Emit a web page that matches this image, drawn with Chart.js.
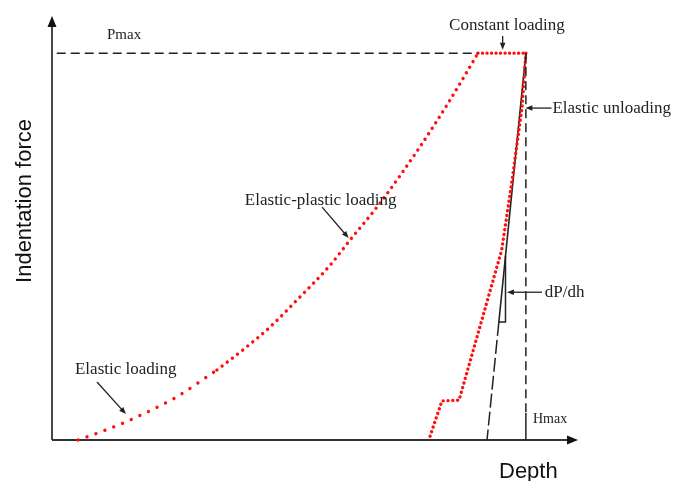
<!DOCTYPE html>
<html>
<head>
<meta charset="utf-8">
<script src="https://cdn.jsdelivr.net/npm/chart.js@4/dist/chart.umd.min.js"></script>
<style>
html,body{margin:0;padding:0;background:#fff;}
#wrap{width:673px;height:481px;position:relative;}
</style>
</head>
<body>
<div id="wrap"><canvas id="c"></canvas></div>
<script>
// Depth in % of Hmax, force in % of Pmax
const elasticDepth = [5.5, 11.4, 16.0, 22.2, 26.0, 34.8];
const elasticForce = [0, 2.6, 4.9, 8.5, 10.9, 18.1];
const plasticDepth = [34.8, 40.3, 46.0, 51.7, 58.7, 62.9, 69.2, 77.6, 84.0, 89.9];
const plasticForce = [18.1, 23.3, 29.2, 36.2, 45.2, 51.7, 61.2, 75.7, 87.9, 100];
const holdDepth = [89.9, 100];
const holdForce = [100, 100];
const unloadDepth = [100, 99.2, 97.1, 94.9, 85.9, 82.3, 79.5];
const unloadForce = [100, 86.1, 67.2, 49.1, 10.3, 10.1, 0];
const tangentSolidDepth = [100, 94.3];
const tangentSolidForce = [100, 30.5];
const tangentDashDepth = [94.3, 91.8];
const tangentDashForce = [30.5, 0];
const triangleDepth = [95.7, 95.7, 94.3];
const triangleForce = [47.6, 30.5, 30.5];
const pmaxDepth = [1.0, 89.9];
const pmaxForce = [100, 100];
const hmaxDashDepth = [100, 100];
const hmaxDashForce = [100, 7];
const hmaxSolidDepth = [100, 100];
const hmaxSolidForce = [7, 0];

// annotation labels: [text, depth, force, align, font size]
const labels = [
  ["Pmax", 11.6, 104.7, "left", 15],
  ["Constant loading", 96.0, 107.2, "center", 17],
  ["Elastic unloading", 105.6, 85.8, "left", 17],
  ["dP/dh", 104.0, 38.2, "left", 17],
  ["Elastic-plastic loading", 40.7, 62.0, "left", 17],
  ["Elastic loading", 4.85, 18.3, "left", 17],
  ["Hmax", 101.5, 5.4, "left", 14]
];
// arrows: [fromDepth, fromForce, toDepth, toForce]
const arrows = [
  [95.1, 104.4, 95.1, 100.9],
  [105.4, 85.8, 99.9, 85.8],
  [103.4, 38.2, 96.0, 38.2],
  [57.0, 60.2, 62.6, 52.2],
  [9.5, 15.0, 15.6, 6.7]
];
const xTitle = "Depth";
const yTitle = "Indentation force";

const pts = (xs, ys) => xs.map((x, i) => ({x: x, y: ys[i]}));
const red = "#ff1010";
const ink = "#222";

function redDots(xs, ys, gap, tension) {
  return {data: pts(xs, ys), borderColor: red, borderWidth: 3.4, borderDash: [0.01, gap],
    borderCapStyle: "round", showLine: true, pointRadius: 0, tension: tension || 0,
    cubicInterpolationMode: tension ? "monotone" : "default", clip: false};
}
function blackLine(xs, ys, dash, w) {
  return {data: pts(xs, ys), borderColor: ink, borderWidth: w || 1.5, borderDash: dash || [],
    showLine: true, pointRadius: 0, tension: 0, clip: false};
}

function arrowHead(ctx, x1, y1, x2, y2, len, hw) {
  const a = Math.atan2(y2 - y1, x2 - x1);
  ctx.beginPath();
  ctx.moveTo(x2, y2);
  ctx.lineTo(x2 - len * Math.cos(a) + hw * Math.sin(a), y2 - len * Math.sin(a) - hw * Math.cos(a));
  ctx.lineTo(x2 - len * Math.cos(a) - hw * Math.sin(a), y2 - len * Math.sin(a) + hw * Math.cos(a));
  ctx.closePath();
  ctx.fill();
}

const decor = {
  id: "decor",
  beforeDatasetsDraw(chart) {
    const ctx = chart.ctx, a = chart.chartArea;
    ctx.save();
    ctx.strokeStyle = "#333"; ctx.fillStyle = "#111"; ctx.lineWidth = 1.8;
    ctx.beginPath();
    ctx.moveTo(a.left, a.bottom); ctx.lineTo(a.left, a.top + 8);
    ctx.moveTo(a.left, a.bottom); ctx.lineTo(a.right - 8, a.bottom);
    ctx.stroke();
    arrowHead(ctx, a.left, a.bottom, a.left, a.top, 11, 4.5);
    arrowHead(ctx, a.left, a.bottom, a.right, a.bottom, 11, 4.5);
    ctx.restore();
  },
  afterDatasetsDraw(chart) {
    const ctx = chart.ctx, xs = chart.scales.x, ys = chart.scales.y;
    ctx.save();
    ctx.fillStyle = ink;
    ctx.textBaseline = "middle";
    labels.forEach(l => {
      ctx.font = l[4] + "px 'Liberation Serif', 'Times New Roman', serif";
      ctx.textAlign = l[3];
      ctx.fillText(l[0], xs.getPixelForValue(l[1]), ys.getPixelForValue(l[2]));
    });
    ctx.strokeStyle = ink; ctx.lineWidth = 1.3;
    arrows.forEach(r => {
      const x1 = xs.getPixelForValue(r[0]), y1 = ys.getPixelForValue(r[1]);
      const x2 = xs.getPixelForValue(r[2]), y2 = ys.getPixelForValue(r[3]);
      const ang = Math.atan2(y2 - y1, x2 - x1);
      ctx.beginPath(); ctx.moveTo(x1, y1);
      ctx.lineTo(x2 - 5 * Math.cos(ang), y2 - 5 * Math.sin(ang)); ctx.stroke();
      arrowHead(ctx, x1, y1, x2, y2, 7, 2.8);
    });
    // axis titles
    ctx.font = "22px 'Liberation Sans', Arial, sans-serif";
    ctx.textAlign = "left";
    ctx.fillStyle = "#111";
    ctx.fillText(xTitle, 499, 472);
    ctx.translate(25, 201);
    ctx.rotate(-Math.PI / 2);
    ctx.textAlign = "center";
    ctx.fillText(yTitle, 0, 0);
    ctx.restore();
  }
};

new Chart(document.getElementById("c"), {
  type: "scatter",
  data: {
    datasets: [
      blackLine(pmaxDepth, pmaxForce, [9, 5]),
      blackLine(hmaxDashDepth, hmaxDashForce, [9, 5]),
      blackLine(hmaxSolidDepth, hmaxSolidForce),
      blackLine(tangentDashDepth, tangentDashForce, [14, 4]),
      blackLine(triangleDepth, triangleForce),
      redDots(elasticDepth, elasticForce, 9.5, 0.4),
      redDots(plasticDepth, plasticForce, 6.5, 0.4),
      redDots(holdDepth, holdForce, 4.5),
      redDots(unloadDepth, unloadForce, 4.8),
      blackLine(tangentSolidDepth, tangentSolidForce, [], 1.6)
    ]
  },
  options: {
    responsive: true,
    maintainAspectRatio: false,
    animation: false,
    layout: {padding: {left: 52, right: 95, top: 16, bottom: 41}},
    plugins: {legend: {display: false}, tooltip: {enabled: false}},
    scales: {
      x: {type: "linear", min: 0, max: 111, display: false},
      y: {type: "linear", min: 0, max: 109.6, display: false}
    }
  },
  plugins: [decor]
});
</script>
</body>
</html>
